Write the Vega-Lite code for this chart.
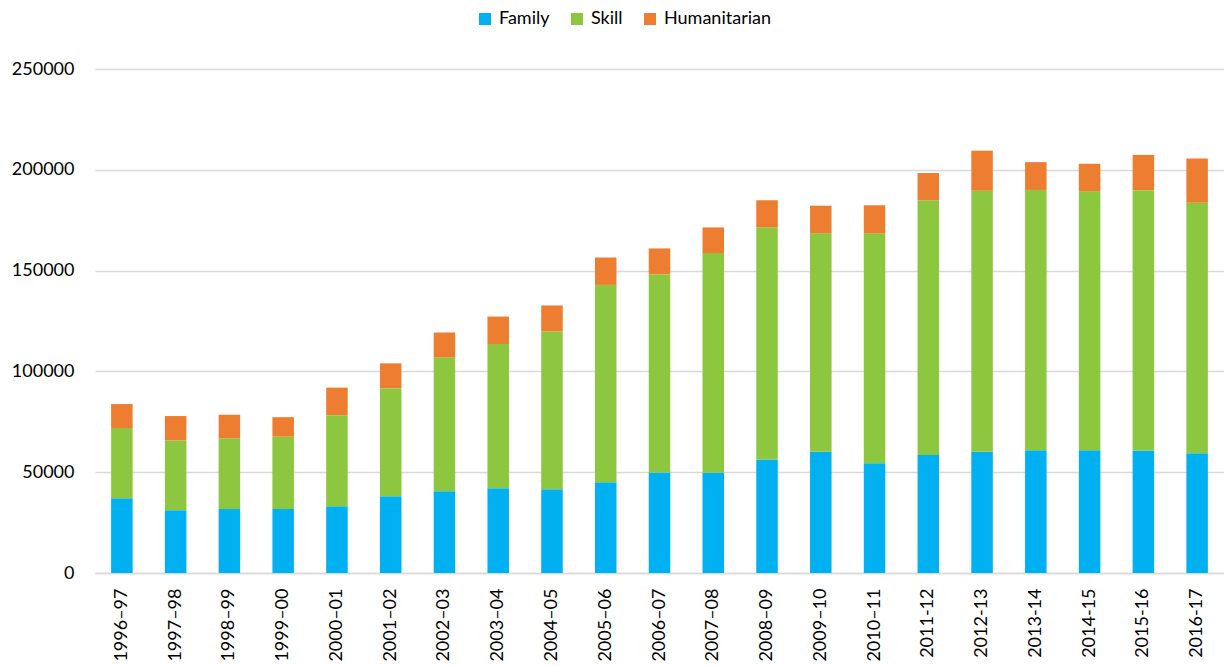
{
  "$schema": "https://vega.github.io/schema/vega-lite/v6.json",
  "width": 1129,
  "height": 504,
  "autosize": {"type": "none"},
  "padding": {"left": 95, "top": 69, "right": 0, "bottom": 93},
  "background": "white",
  "config": {
    "view": {"stroke": null},
    "font": "Lato",
    "axis": {"labelFont": "Lato", "labelColor": "#000000"},
    "legend": {"labelFont": "Lato", "labelColor": "#000000"}
  },
  "datasets": {
    "seriesOrder": [
      {"series": "Family", "rank": 1},
      {"series": "Skill", "rank": 2},
      {"series": "Humanitarian", "rank": 3}
    ],
    "intake": [
      {"year": "1996–97", "series": "Family", "value": 37100},
      {"year": "1996–97", "series": "Skill", "value": 34800},
      {"year": "1996–97", "series": "Humanitarian", "value": 11900},
      {"year": "1997–98", "series": "Family", "value": 31100},
      {"year": "1997–98", "series": "Skill", "value": 34650},
      {"year": "1997–98", "series": "Humanitarian", "value": 12100},
      {"year": "1998–99", "series": "Family", "value": 31800},
      {"year": "1998–99", "series": "Skill", "value": 35100},
      {"year": "1998–99", "series": "Humanitarian", "value": 11600},
      {"year": "1999–00", "series": "Family", "value": 31800},
      {"year": "1999–00", "series": "Skill", "value": 35800},
      {"year": "1999–00", "series": "Humanitarian", "value": 9700},
      {"year": "2000–01", "series": "Family", "value": 33100},
      {"year": "2000–01", "series": "Skill", "value": 45200},
      {"year": "2000–01", "series": "Humanitarian", "value": 13650},
      {"year": "2001–02", "series": "Family", "value": 38100},
      {"year": "2001–02", "series": "Skill", "value": 53600},
      {"year": "2001–02", "series": "Humanitarian", "value": 12300},
      {"year": "2002–03", "series": "Family", "value": 40600},
      {"year": "2002–03", "series": "Skill", "value": 66400},
      {"year": "2002–03", "series": "Humanitarian", "value": 12300},
      {"year": "2003–04", "series": "Family", "value": 42000},
      {"year": "2003–04", "series": "Skill", "value": 71600},
      {"year": "2003–04", "series": "Humanitarian", "value": 13600},
      {"year": "2004–05", "series": "Family", "value": 41500},
      {"year": "2004–05", "series": "Skill", "value": 78300},
      {"year": "2004–05", "series": "Humanitarian", "value": 12900},
      {"year": "2005–06", "series": "Family", "value": 45000},
      {"year": "2005–06", "series": "Skill", "value": 97900},
      {"year": "2005–06", "series": "Humanitarian", "value": 13600},
      {"year": "2006–07", "series": "Family", "value": 49850},
      {"year": "2006–07", "series": "Skill", "value": 98400},
      {"year": "2006–07", "series": "Humanitarian", "value": 12750},
      {"year": "2007–08", "series": "Family", "value": 49700},
      {"year": "2007–08", "series": "Skill", "value": 109000},
      {"year": "2007–08", "series": "Humanitarian", "value": 12700},
      {"year": "2008–09", "series": "Family", "value": 56300},
      {"year": "2008–09", "series": "Skill", "value": 115200},
      {"year": "2008–09", "series": "Humanitarian", "value": 13400},
      {"year": "2009–10", "series": "Family", "value": 60100},
      {"year": "2009–10", "series": "Skill", "value": 108400},
      {"year": "2009–10", "series": "Humanitarian", "value": 13700},
      {"year": "2010–11", "series": "Family", "value": 54500},
      {"year": "2010–11", "series": "Skill", "value": 114000},
      {"year": "2010–11", "series": "Humanitarian", "value": 13900},
      {"year": "2011-12", "series": "Family", "value": 58500},
      {"year": "2011-12", "series": "Skill", "value": 126400},
      {"year": "2011-12", "series": "Humanitarian", "value": 13500},
      {"year": "2012-13", "series": "Family", "value": 60100},
      {"year": "2012-13", "series": "Skill", "value": 129500},
      {"year": "2012-13", "series": "Humanitarian", "value": 19900},
      {"year": "2013-14", "series": "Family", "value": 60900},
      {"year": "2013-14", "series": "Skill", "value": 129100},
      {"year": "2013-14", "series": "Humanitarian", "value": 13800},
      {"year": "2014-15", "series": "Family", "value": 60900},
      {"year": "2014-15", "series": "Skill", "value": 128400},
      {"year": "2014-15", "series": "Humanitarian", "value": 13700},
      {"year": "2015-16", "series": "Family", "value": 60800},
      {"year": "2015-16", "series": "Skill", "value": 129100},
      {"year": "2015-16", "series": "Humanitarian", "value": 17500},
      {"year": "2016-17", "series": "Family", "value": 59400},
      {"year": "2016-17", "series": "Skill", "value": 124300},
      {"year": "2016-17", "series": "Humanitarian", "value": 21900}
    ]
  },
  "data": {"name": "intake"},
  "transform": [
    {
      "lookup": "series",
      "from": {"data": {"name": "seriesOrder"}, "key": "series", "fields": ["rank"]}
    }
  ],
  "mark": {"type": "bar"},
  "encoding": {
    "x": {
      "field": "year",
      "type": "nominal",
      "sort": null,
      "scale": {"paddingInner": 0.6, "paddingOuter": 0.3},
      "axis": {
        "title": null,
        "labelAngle": -90,
        "labelFontSize": 18,
        "labelPadding": 15,
        "ticks": false,
        "domainColor": "#d9d9d9",
        "domainWidth": 1.5,
        "grid": false
      }
    },
    "y": {
      "field": "value",
      "type": "quantitative",
      "stack": "zero",
      "scale": {"domain": [0, 250000], "nice": false},
      "axis": {
        "title": null,
        "values": [0, 50000, 100000, 150000, 200000, 250000],
        "format": "d",
        "labelFontSize": 18,
        "labelPadding": 21,
        "ticks": false,
        "domain": false,
        "gridColor": "#d9d9d9",
        "gridWidth": 1.5
      }
    },
    "color": {
      "field": "series",
      "type": "nominal",
      "sort": ["Family", "Skill", "Humanitarian"],
      "scale": {
        "domain": ["Family", "Skill", "Humanitarian"],
        "range": ["#00b0f0", "#8dc63f", "#ed7d31"]
      },
      "legend": {
        "orient": "none",
        "direction": "horizontal",
        "legendX": 381,
        "legendY": -59,
        "title": null,
        "symbolType": "square",
        "symbolSize": 144,
        "symbolStrokeWidth": 0,
        "labelFontSize": 18,
        "labelOffset": 5,
        "columnPadding": 18
      }
    },
    "order": {"field": "rank", "type": "quantitative", "sort": "ascending"}
  }
}
